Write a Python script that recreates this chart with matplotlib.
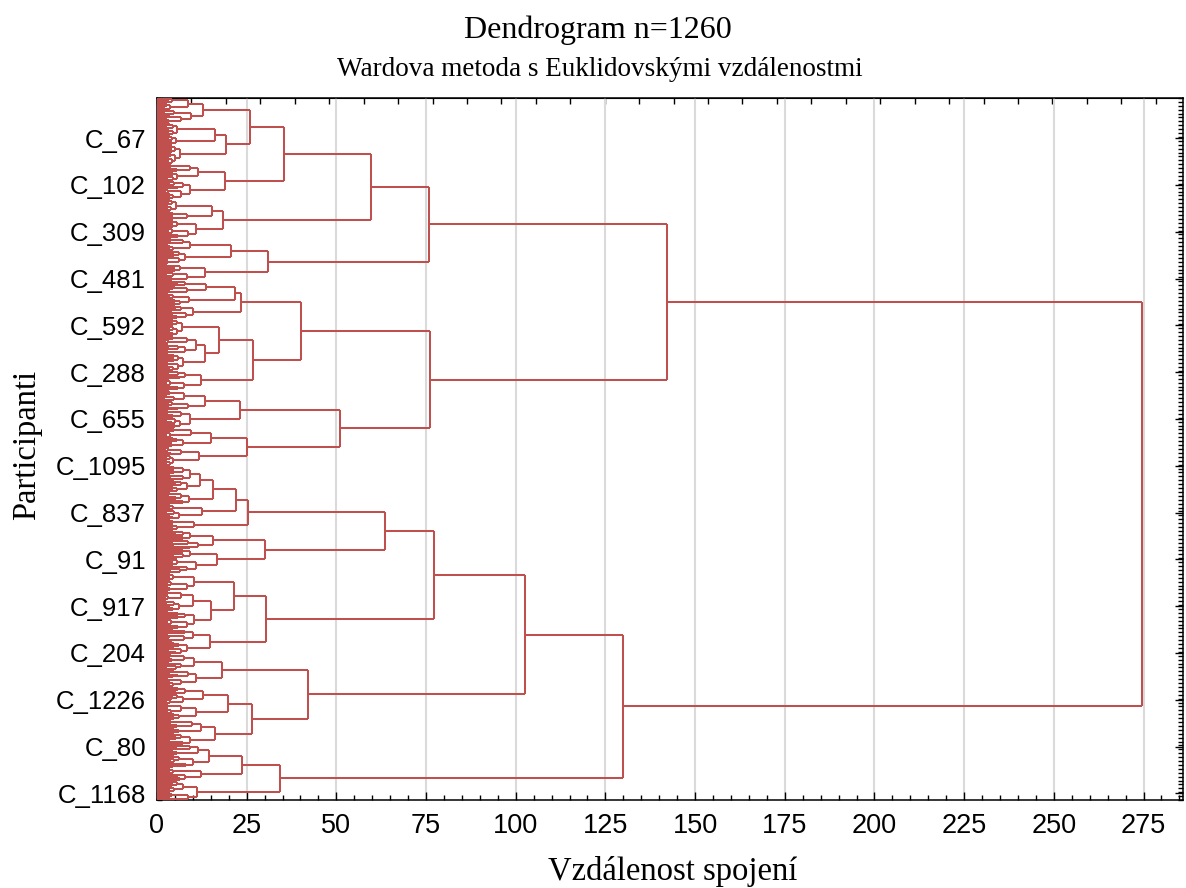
import itertools

import matplotlib
matplotlib.use("Agg")
import matplotlib.pyplot as plt
from matplotlib.collections import LineCollection
from matplotlib.ticker import MultipleLocator, NullFormatter

N_LEAVES = 1260
LINE_COLOR = "#c0504d"

# leaf groups at the bottom of the readable tree, top to bottom
GROUP_SIZES = [45, 39, 34, 31, 33, 37, 33, 23, 24, 29, 24, 20, 24, 31, 32,
               31, 35, 35, 33, 34, 33, 27, 21, 21, 27, 21, 17, 16, 17, 25,
               33, 37, 31, 24, 21, 28, 31, 30, 29, 25, 20, 19, 23, 23, 34]
GROUP_HEIGHTS = [12.9, 16.2, 6.4, 11.5, 9.2, 15.4, 10.8, 9.2, 7.8, 13.4,
                 13.7, 9.0, 10.1, 6.9, 11.0, 7.2, 12.3, 13.4, 9.2, 15.0,
                 11.8, 9.2, 8.4, 9.0, 12.5, 10.3, 9.2, 11.5, 9.2, 10.8,
                 10.4, 10.1, 10.3, 9.9, 8.4, 10.4, 10.9, 12.9, 10.9, 12.3,
                 9.2, 11.5, 10.0, 12.2, 11.2]

# inside a group: rough merge heights by depth, plus a spread and split pattern
FINE_LEVELS = [7.5, 5.2, 3.8, 2.8, 1.9, 1.2, 0.6]
FINE_SCALE = [1.15, 0.8, 1.0, 0.7, 1.25, 0.9, 0.6, 1.1, 0.85, 1.3, 0.75, 0.95, 1.05]
FINE_SPLIT = [0.5, 0.38, 0.6, 0.45, 0.55, 0.42, 0.62]

# upper tree: (linkage distance, upper child, lower child); ints = leaf groups
A1A1 = (35.5, (26.0, 0, (19.2, 1, 2)), (19.0, 3, 4))
A1A2 = (18.5, 5, 6)
A1B = (31.0, (20.6, 7, 8), 9)
A2A = (40.2, (23.4, (21.8, 10, 11), 12), (26.7, (17.4, 13, (13.4, 14, 15)), 16))
A2B = (51.0, (23.0, 17, 18), (25.0, 19, 20))
B1A1 = (63.6, (25.3, (22.0, (15.5, (12.0, 21, 22), 23), 24), 25),
        (30.0, (15.7, 26, 27), (16.6, 28, 29)))
B1A2 = (30.3, (21.6, 30, (15.1, 31, 32)), (14.8, 33, 34))
B1B = (42.1, (18.0, 35, 36), (26.4, (19.9, 37, 38), (16.3, 39, 40)))
B2 = (34.3, (23.8, (14.6, 41, 42), 43), 44)
CLUSTER_A = (142.3, (75.9, (59.7, A1A1, A1A2), A1B), (76.2, A2A, A2B))
CLUSTER_B = (129.8, (102.6, (77.1, B1A1, B1A2), B1B), B2)
ROOT = (274.5, CLUSTER_A, CLUSTER_B)

Y_LABELS = ["C_67", "C_102", "C_309", "C_481", "C_592", "C_288", "C_655",
            "C_1095", "C_837", "C_91", "C_917", "C_204", "C_1226", "C_80",
            "C_1168"]
LABEL_STEP = 84
LABEL_OFFSET = 72

assert sum(GROUP_SIZES) == N_LEAVES

segs = []
scale = itertools.cycle(FINE_SCALE)
split = itertools.cycle(FINE_SPLIT)


def link(h, c1, c2):
    (y1, h1), (y2, h2) = c1, c2
    segs.append([(h1, y1), (h, y1)])
    segs.append([(h2, y2), (h, y2)])
    segs.append([(h, y1), (h, y2)])
    return ((y1 + y2) / 2, h)


def fine(lo, n, h, depth):
    if n == 1:
        return (lo + 0.5, 0.0)
    n1 = min(n - 1, max(1, round(n * next(split))))
    lvl = FINE_LEVELS[min(depth, len(FINE_LEVELS) - 1)]
    c1 = fine(lo, n1, min(lvl * next(scale), 0.8 * h), depth + 1)
    c2 = fine(lo + n1, n - n1, min(lvl * next(scale), 0.8 * h), depth + 1)
    return link(h, c1, c2)


def build(node, lo):
    if isinstance(node, int):
        n = GROUP_SIZES[node]
        return fine(lo, n, GROUP_HEIGHTS[node], 0), lo + n
    h, a, b = node
    ca, lo = build(a, lo)
    cb, lo = build(b, lo)
    return link(h, ca, cb), lo


build(ROOT, 0)

fig = plt.figure(figsize=(11.86, 8.88), dpi=100)
ax = fig.add_axes([157 / 1186, 88 / 888, 1026 / 1186, 702 / 888])
ax.add_collection(LineCollection(segs, colors=LINE_COLOR, linewidths=1.45, zorder=3))
ax.set_xlim(0, 286)
ax.set_ylim(N_LEAVES, 0)

ax.xaxis.set_major_locator(MultipleLocator(25))
ax.xaxis.set_minor_locator(MultipleLocator(5))
ax.grid(axis="x", which="major", color="#dadada", lw=1.5, zorder=0)
ax.set_yticks([LABEL_OFFSET + LABEL_STEP * i for i in range(len(Y_LABELS))])
ax.set_yticklabels(Y_LABELS, fontsize=18.5, family="Liberation Sans")
ax.yaxis.set_minor_locator(MultipleLocator(7))
for lab in ax.get_xticklabels():
    lab.set_family("Liberation Sans")
ax.tick_params(axis="x", labelsize=19.5, pad=9)
ax.tick_params(axis="y", pad=8)
ax.tick_params(which="both", direction="in", right=True, colors="black")
ax.tick_params(which="major", length=6, width=1.0)
ax.tick_params(which="minor", length=3.5, width=1.0)
for s in ax.spines.values():
    s.set_linewidth(1.1)

top = ax.secondary_xaxis("top")
top.xaxis.set_major_locator(MultipleLocator(9.6))
top.xaxis.set_major_formatter(NullFormatter())
top.tick_params(direction="in", length=4, width=1.0)

# text placed in figure pixels (origin bottom-left)
serif = ["Liberation Serif", "DejaVu Serif"]
fig.text(598, 888 - 38, "Dendrogram n=1260", transform=None, ha="center",
         va="baseline", fontsize=23, family=serif)
fig.text(600, 888 - 76, "Wardova metoda s Euklidovskými vzdálenostmi", transform=None,
         ha="center", va="baseline", fontsize=19.5, family=serif)
fig.text(673, 888 - 880, "Vzdálenost spojení", transform=None, ha="center",
         va="baseline", fontsize=23.5, family=serif)
fig.text(27, 888 - 445, "Participanti", transform=None, ha="center", va="center",
         rotation=90, fontsize=23.5, family=serif)

fig.savefig("out.png", dpi=100)
